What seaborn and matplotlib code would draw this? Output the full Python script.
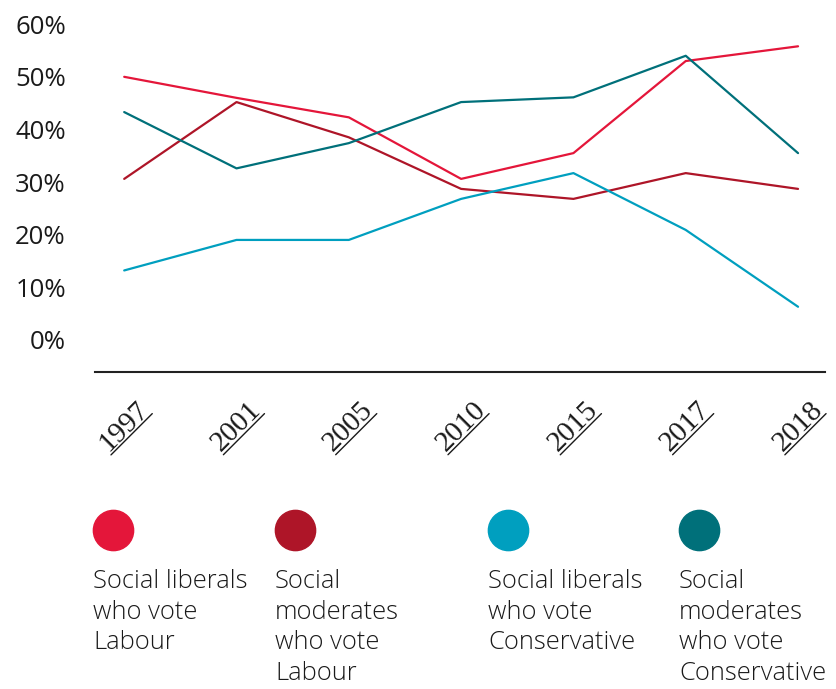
import seaborn as sns
import pandas as pd
import numpy as np
import matplotlib.pyplot as plt
from matplotlib.lines import Line2D

years = ['1997', '2001', '2005', '2010', '2015', '2017', '2018']
series_names = ['Social liberals\nwho vote\nLabour',
                'Social\nmoderates\nwho vote\nLabour',
                'Social liberals\nwho vote\nConservative',
                'Social\nmoderates\nwho vote\nConservative']
lib_labour = [50, 46, 42.3, 30.6, 35.5, 53, 55.8]
mod_labour = [30.6, 45.2, 38.5, 28.7, 26.8, 31.7, 28.7]
lib_con = [13.2, 19, 19, 26.8, 31.7, 20.9, 6.3]
mod_con = [43.3, 32.6, 37.4, 45.2, 46.1, 54, 35.5]
colors = ['#e4163a', '#ae1528', '#009fbf', '#00707a']

#整理数据
def collect_data():
    frames = []
    for name, vals in zip(series_names, [lib_labour, mod_labour, lib_con, mod_con]):
        frames.append(pd.DataFrame({'year': years, 'share': vals, 'group': name}))
    return pd.concat(frames, ignore_index=True)

def underline_ticks(fig, ax):
    # 斜着的年份下面画下划线
    fig.canvas.draw()
    r = fig.canvas.get_renderer()
    ang = np.deg2rad(45)
    u = np.array([np.cos(ang), np.sin(ang)])
    n = np.array([np.sin(ang), -np.cos(ang)])
    W, H = fig.bbox.width, fig.bbox.height
    for lab in ax.get_xticklabels():
        bb = lab.get_window_extent(r)
        c = np.array([(bb.x0 + bb.x1) / 2, (bb.y0 + bb.y1) / 2])
        w, h, d = r.get_text_width_height_descent(lab.get_text(), lab.get_fontproperties(), ismath=False)
        off = h / 2 + 1
        p0 = c + n * off - u * w / 2
        p1 = c + n * off + u * w / 2
        fig.add_artist(Line2D([p0[0] / W, p1[0] / W], [p0[1] / H, p1[1] / H],
                              color='#1a1a1a', linewidth=1.0, transform=fig.transFigure))

def draw(data_df):
    sns.set_style('white')
    plt.rcParams['font.family'] = ['Open Sans', 'DejaVu Sans']

    fig = plt.figure(figsize=(8.37, 6.89), dpi=100)
    ax = fig.add_axes([95/837, 1-372/689, 730/837, 372/689])
    sns.lineplot(data=data_df, x='year', y='share', hue='group', palette=colors,
                 sort=False, linewidth=1.6, legend=False, ax=ax)

    ax.set_ylim(-6.1, 64.6)
    ax.set_xlim(-0.26, 6.24)
    ax.set_yticks(range(0, 61, 10))
    ax.set_yticklabels([f'{v}%' for v in range(0, 61, 10)], fontsize=18.5, color='#1a1a1a')
    ax.set_xticks(range(len(years)))
    ax.set_xticklabels(years, rotation=45, fontsize=21, color='#1a1a1a',
                       family='Liberation Serif')
    ax.tick_params(axis='y', length=0, pad=21)
    ax.tick_params(axis='x', length=0, pad=18)
    ax.set_xlabel('')
    ax.set_ylabel('')
    for s in ['top', 'right', 'left']:
        ax.spines[s].set_visible(False)
    ax.spines['bottom'].set_color('#222222')
    ax.spines['bottom'].set_linewidth(1.5)

    # legend
    xs = [93, 275, 488, 679]
    for x, c, name in zip(xs, colors, series_names):
        fig.add_artist(Line2D([(x + 20)/837], [1 - 530/689], marker='o', markersize=29,
                              color=c, linestyle='none', transform=fig.transFigure))
        fig.text(x/837, 1 - 569/689, name, ha='left', va='top', fontsize=18.4,
                 linespacing=1.29, color='#1a1a1a', fontweight='light')

    underline_ticks(fig, ax)
    fig.savefig('out.png', dpi=100)

def main():
    data_df = collect_data()
    draw(data_df)

if __name__ == '__main__':
    main()
